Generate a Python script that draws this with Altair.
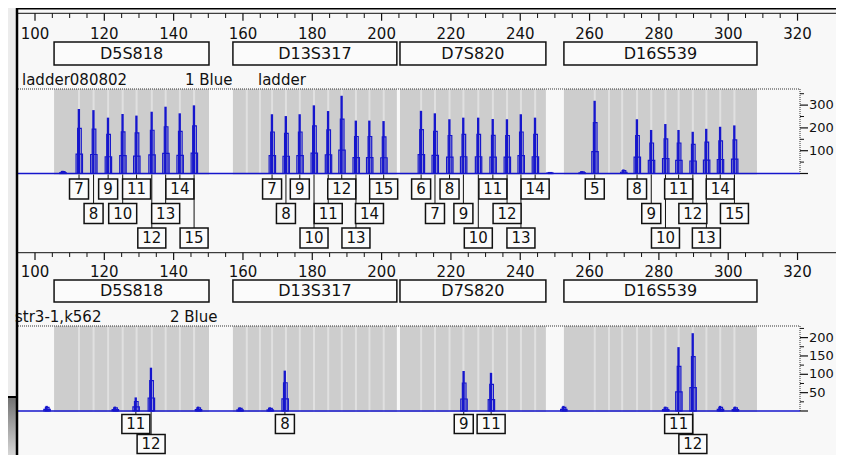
import altair as alt
import pandas as pd

# ---------------- data ----------------
LOCI = ["D5S818", "D13S317", "D7S820", "D16S539"]
LOCUS_START = [105.5, 157.1, 205.3, 252.6]
LOCUS_END = [150.2, 204.4, 247.4, 308.3]

# ladder panel (1 Blue)
D5_ALLELES = ["7", "8", "9", "10", "11", "12", "13", "14", "15"]
D5_POS = [112.7, 116.9, 121.1, 125.3, 129.3, 133.7, 137.7, 141.8, 145.9]
D5_HEIGHT = [283, 278, 245, 261, 254, 271, 293, 264, 299]
D5_ROW = [1, 2, 1, 2, 1, 3, 2, 1, 3]

D13_ALLELES = ["7", "8", "9", "10", "11", "12", "13", "14", "15"]
D13_POS = [168.4, 172.4, 176.4, 180.5, 184.6, 188.5, 192.6, 196.5, 200.6]
D13_HEIGHT = [260, 252, 260, 299, 274, 341, 232, 232, 230]
D13_ROW = [1, 2, 1, 3, 2, 1, 3, 2, 1]

D7_ALLELES = ["6", "7", "8", "9", "10", "11", "12", "13", "14"]
D7_POS = [211.4, 215.4, 219.6, 223.6, 227.9, 232.1, 236.2, 240.2, 244.3]
D7_HEIGHT = [275, 264, 238, 245, 245, 239, 238, 260, 245]
D7_ROW = [1, 2, 1, 2, 3, 1, 2, 3, 1]

D16_ALLELES = ["5", "8", "9", "10", "11", "12", "13", "14", "15"]
D16_POS = [261.5, 273.7, 277.8, 281.9, 285.7, 289.8, 293.7, 297.7, 301.8]
D16_HEIGHT = [319, 238, 191, 217, 191, 183, 196, 205, 211]
D16_ROW = [1, 1, 2, 3, 1, 2, 3, 1, 2]

EXTRA_BINS = [161.1, 164.9, 265.6, 269.4]

LADDER_NOISE_POS = [108.0, 248.5, 257.8, 269.8]
LADDER_NOISE_HEIGHT = [12, 6, 10, 18]

# sample panel (2 Blue)
SAMPLE_ALLELES = ["11", "12", "8", "9", "11", "11", "12"]
SAMPLE_POS = [129.1, 133.5, 172.1, 223.7, 231.6, 285.7, 289.8]
SAMPLE_HEIGHT = [37, 118, 110, 109, 104, 174, 212]
SAMPLE_ROW = [1, 2, 1, 1, 1, 1, 2]

SAMPLE_NOISE_POS = [103.4, 123.1, 147.1, 159.1, 167.8, 252.5, 281.9, 297.7, 302.0]
SAMPLE_NOISE_HEIGHT = [14, 12, 12, 10, 10, 14, 12, 14, 12]

RULER_MAJOR = [100, 120, 140, 160, 180, 200, 220, 240, 260, 280, 300, 320]
RULER_MINOR = [v for v in range(100, 321, 5) if v % 20 != 0]

TOP_Y_MAJOR = [0, 100, 200, 300]
TOP_Y_LABELS = [100, 200, 300]
TOP_Y_MINOR = [50, 150, 250, 350]
BOT_Y_MAJOR = [0, 50, 100, 150, 200]
BOT_Y_LABELS = [50, 100, 150, 200]
BOT_Y_MINOR = [25, 75, 125, 175, 225]

TOP_TEXTS = ["ladder080802", "1 Blue", "ladder"]
BOT_TEXTS = ["str3-1,k562", "2 Blue"]

# ---------------- styles / layout ----------------
W, H = 828, 447
FONT = "DejaVu Sans"
INK = "#111111"
BLUE = "#1616cc"
GRAY = "#cdcdcd"
BINLINE = "#e0e0e0"
BG = "#f8f8f8"
BOXFILL = "#fbfbfb"

XS = alt.Scale(domain=[92.21, 331.1], nice=False, zero=False)
PX_PER_BP = W / (331.1 - 92.21)

YT = alt.Scale(domain=[0, 372], range=[165.5, 80.7], nice=False, zero=False)
YB = alt.Scale(domain=[0, 231.6], range=[403, 318], nice=False, zero=False)
RT = alt.Scale(domain=[1, 3], range=[181, 230], nice=False, zero=False)
RB = alt.Scale(domain=[1, 2], range=[416, 436], nice=False, zero=False)

# peak drawing bands: (left offset bp, right offset bp, fraction of height)
BANDS = [(-0.85, 1.0, 0.3, "base"), (-0.4, 0.65, 0.7, "mid"), (-0.38, 0.3, 1.0, "spike")]


def X(f):
    return alt.X(f"{f}:Q", scale=XS, axis=None)


def peak_table(pos, heights):
    rows = []
    for p, h in zip(pos, heights):
        for lo, hi, frac, name in BANDS:
            rows.append({"x1": p + lo, "x2": p + hi, "top": h * frac, "base": 0, "band": name})
    return pd.DataFrame(rows)


def label_table(pos, labels, rows, half_row):
    df = pd.DataFrame({"pos": pos, "label": labels, "row": rows})
    hw = df["label"].str.len().map({1: 9.5, 2: 14.0}) / PX_PER_BP
    df["x1"] = df["pos"] - hw
    df["x2"] = df["pos"] + hw
    df["r_lo"] = df["row"] - half_row
    df["r_hi"] = df["row"] + half_row
    return df


DUMMY = pd.DataFrame({"z": [0]})
loci_df = pd.DataFrame({"locus": LOCI, "start": LOCUS_START, "end": LOCUS_END})
loci_df["mid"] = (loci_df["start"] + loci_df["end"]) / 2

bins_df = pd.DataFrame({"pos": D5_POS + D13_POS + D7_POS + D16_POS + EXTRA_BINS})

ladder_pos = D5_POS + D13_POS + D7_POS + D16_POS
ladder_h = D5_HEIGHT + D13_HEIGHT + D7_HEIGHT + D16_HEIGHT
ladder_lab = D5_ALLELES + D13_ALLELES + D7_ALLELES + D16_ALLELES
ladder_row = D5_ROW + D13_ROW + D7_ROW + D16_ROW

top_peaks = peak_table(ladder_pos + LADDER_NOISE_POS, ladder_h + LADDER_NOISE_HEIGHT)
bot_peaks = peak_table(SAMPLE_POS + SAMPLE_NOISE_POS, SAMPLE_HEIGHT + SAMPLE_NOISE_HEIGHT)
top_labels = label_table(ladder_pos, ladder_lab, ladder_row, 10 / 24.5)
bot_labels = label_table(SAMPLE_POS, SAMPLE_ALLELES, SAMPLE_ROW, 9.5 / 20)

layers = []

# outer window decorations
layers.append(alt.Chart(DUMMY).mark_rect(color="#ececec").encode(
    x=alt.value(0), x2=alt.value(8), y=alt.value(0), y2=alt.value(389)))
layers.append(alt.Chart(DUMMY).mark_rect(
    color=alt.LinearGradient(gradient="linear",
                             stops=[alt.GradientStop(color="#707070", offset=0),
                                    alt.GradientStop(color="#d6d6d6", offset=1)],
                             x1=0, x2=0, y1=0, y2=1)).encode(
    x=alt.value(0), x2=alt.value(8), y=alt.value(389), y2=alt.value(H)))
layers.append(alt.Chart(DUMMY).mark_rule(color="#000", strokeWidth=2).encode(
    x=alt.value(0), x2=alt.value(9), y=alt.value(389)))


def panel(ruler_y, tick_minor_y, tick_major_y, tick_label_y, box_y1, box_y2,
          name_y, texts, text_x, gray_y1, gray_y2, ys, rs, peaks, labels,
          y_major, y_labels, y_minor):
    out = []
    # gray locus zones and bin lines
    out.append(alt.Chart(loci_df).mark_rect(color=GRAY).encode(
        x=X("start"), x2="end:Q", y=alt.value(gray_y1), y2=alt.value(gray_y2)))
    out.append(alt.Chart(bins_df).mark_rule(color=BINLINE, strokeWidth=2).encode(
        x=X("pos"), y=alt.value(gray_y1), y2=alt.value(gray_y2)))
    # dotted frame
    out.append(alt.Chart(DUMMY).mark_rule(color="#333", strokeWidth=1, strokeDash=[1, 1]).encode(
        x=alt.value(10), x2=alt.value(792), y=alt.value(gray_y1)))
    out.append(alt.Chart(DUMMY).mark_rule(color="#333", strokeWidth=1, strokeDash=[1, 1]).encode(
        x=alt.value(792), y=alt.value(gray_y1), y2=alt.value(gray_y2)))
    # ruler
    out.append(alt.Chart(DUMMY).mark_rule(color=INK, strokeWidth=1).encode(
        x=alt.value(10), x2=alt.value(W), y=alt.value(ruler_y)))
    out.append(alt.Chart(pd.DataFrame({"v": RULER_MINOR})).mark_rule(color=INK, strokeWidth=1).encode(
        x=X("v"), y=alt.value(ruler_y), y2=alt.value(tick_minor_y)))
    out.append(alt.Chart(pd.DataFrame({"v": RULER_MAJOR})).mark_rule(color=INK, strokeWidth=1.2).encode(
        x=X("v"), y=alt.value(ruler_y), y2=alt.value(tick_major_y)))
    out.append(alt.Chart(pd.DataFrame({"v": RULER_MAJOR})).mark_text(
        font=FONT, fontSize=15, color=INK, baseline="middle").encode(
        x=X("v"), y=alt.value(tick_label_y), text="v:Q"))
    # locus boxes
    out.append(alt.Chart(loci_df).mark_rect(fill=BOXFILL, stroke=INK, strokeWidth=1.5).encode(
        x=X("start"), x2="end:Q", y=alt.value(box_y1), y2=alt.value(box_y2)))
    out.append(alt.Chart(loci_df).mark_text(font=FONT, fontSize=16, color=INK, baseline="middle").encode(
        x=X("mid"), y=alt.value((box_y1 + box_y2) / 2), text="locus:N"))
    # sample name line
    for t, tx in zip(texts, text_x):
        out.append(alt.Chart(pd.DataFrame({"t": [t]})).mark_text(
            font=FONT, fontSize=15, color=INK, baseline="middle", align="left").encode(
            x=alt.value(tx), y=alt.value(name_y), text="t:N"))
    # trace: baseline + peaks
    out.append(alt.Chart(DUMMY).mark_rule(color=BLUE, strokeWidth=1.6).encode(
        x=alt.value(10), x2=alt.value(792), y=alt.Y("z:Q", scale=ys, axis=None)))
    out.append(alt.Chart(peaks[peaks.band != "spike"]).mark_rect(
        fillOpacity=0, stroke=BLUE, strokeWidth=1.2).encode(
        x=X("x1"), x2="x2:Q", y=alt.Y("top:Q", scale=ys, axis=None), y2="base:Q"))
    out.append(alt.Chart(peaks[peaks.band == "spike"]).mark_rect(color=BLUE).encode(
        x=X("x1"), x2="x2:Q", y=alt.Y("top:Q", scale=ys, axis=None), y2="base:Q"))
    # right intensity axis
    out.append(alt.Chart(pd.DataFrame({"v": y_major})).mark_rule(color=INK, strokeWidth=1.2).encode(
        x=alt.value(792), x2=alt.value(800), y=alt.Y("v:Q", scale=ys, axis=None)))
    out.append(alt.Chart(pd.DataFrame({"v": y_minor})).mark_rule(color=INK, strokeWidth=1).encode(
        x=alt.value(792), x2=alt.value(796), y=alt.Y("v:Q", scale=ys, axis=None)))
    out.append(alt.Chart(pd.DataFrame({"v": y_labels})).mark_text(
        font=FONT, fontSize=13, color=INK, baseline="middle", align="left").encode(
        x=alt.value(801), y=alt.Y("v:Q", scale=ys, axis=None), text="v:Q"))
    # allele call labels
    out.append(alt.Chart(labels).mark_rule(color=INK, strokeWidth=1).encode(
        x=X("pos"), y=alt.Y("r_lo:Q", scale=rs, axis=None), y2=alt.value(gray_y2)))
    out.append(alt.Chart(labels).mark_rect(fill=BOXFILL, stroke=INK, strokeWidth=1.5).encode(
        x=X("x1"), x2="x2:Q", y=alt.Y("r_lo:Q", scale=rs, axis=None), y2="r_hi:Q"))
    out.append(alt.Chart(labels).mark_text(font=FONT, fontSize=15, color=INK, baseline="middle").encode(
        x=X("pos"), y=alt.Y("row:Q", scale=rs, axis=None), text="label:N"))
    return out


layers += panel(5.3, 10, 12.7, 25.5, 34, 57, 72, TOP_TEXTS, [14, 177, 250],
                81, 166.5, YT, RT, top_peaks, top_labels,
                TOP_Y_MAJOR, TOP_Y_LABELS, TOP_Y_MINOR)
layers += panel(244.7, 249, 252, 264, 272, 294, 308.7, BOT_TEXTS, [7, 162],
                318, 404, YB, RB, bot_peaks, bot_labels,
                BOT_Y_MAJOR, BOT_Y_LABELS, BOT_Y_MINOR)

# window borders
layers.append(alt.Chart(DUMMY).mark_rule(color="#000", strokeWidth=2.5).encode(
    x=alt.value(9), y=alt.value(0), y2=alt.value(H)))
layers.append(alt.Chart(DUMMY).mark_rule(color="#000", strokeWidth=2).encode(
    x=alt.value(8), x2=alt.value(W), y=alt.value(0.5)))

chart = alt.layer(*layers).resolve_scale(y="independent").properties(
    width=W, height=H, padding=0, autosize=alt.AutoSizeParams(type="none")
).configure(background=BG).configure_view(strokeWidth=0)

chart.save("out.html", embed_options={"renderer": "svg", "actions": False})
